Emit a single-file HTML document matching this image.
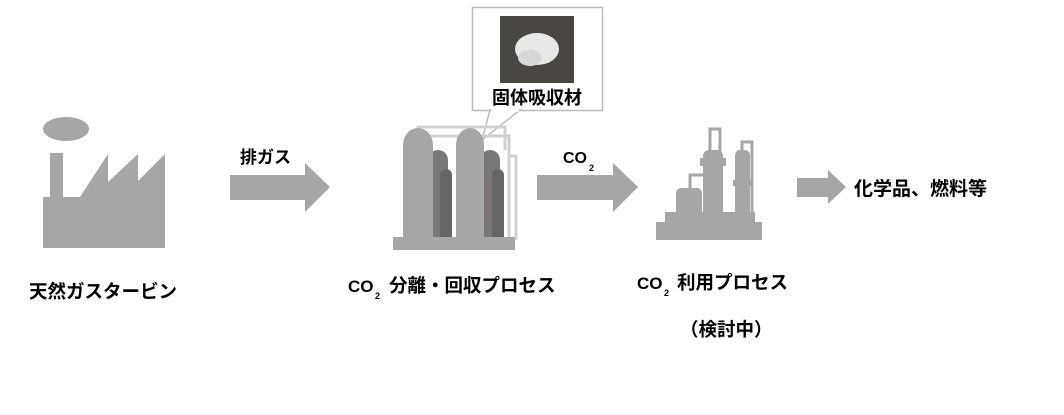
<!DOCTYPE html>
<html><head><meta charset="utf-8"><style>
body{margin:0;background:#fff;width:1064px;height:415px;overflow:hidden}
svg{display:block}
text{font-family:"Liberation Sans","Noto Sans CJK JP",sans-serif;fill:#000;font-weight:bold}
</style></head><body>
<svg width="1064" height="415" viewBox="0 0 1064 415">
<!-- factory -->
<ellipse cx="66" cy="129" rx="23" ry="12" fill="#a6a6a6"/>
<rect x="50" y="153" width="13" height="46" fill="#a6a6a6"/>
<polygon points="43,197 80,197 108,154 108,182 138,154 138,181 165,154 165,248 43,248" fill="#a6a6a6"/>
<!-- arrows -->
<polygon points="230,175 305,175 305,163 330,187 305,212 305,200 230,200" fill="#a6a6a6"/>
<polygon points="537,175 613,175 613,163 638,187 613,212 613,200 537,200" fill="#a6a6a6"/>
<polygon points="797,178 828,178 828,170 846,187 828,204 828,197 797,197" fill="#a6a6a6"/>
<!-- labels -->
<text x="240" y="163" font-size="17">排ガス</text>
<text x="563" y="163" font-size="16">CO</text>
<text x="589" y="171" font-size="9">2</text>
<text x="854" y="195" font-size="19">化学品、燃料等</text>
<text x="29" y="298" font-size="18.5">天然ガスタービン</text>
<text x="348" y="292" font-size="17">CO</text>
<text x="375" y="299" font-size="9">2</text>
<text x="389" y="292" font-size="18.5">分離・回収プロセス</text>
<text x="637" y="289" font-size="17">CO</text>
<text x="664" y="296" font-size="9">2</text>
<text x="677" y="289" font-size="18.5">利用プロセス</text>
<text x="680" y="336" font-size="18.5">（検討中）</text>
<!-- callout -->
<rect x="472.5" y="7.5" width="130" height="103" fill="#fff" stroke="#bbb" stroke-width="1.5"/>
<polygon points="490,110 520,110 482,140" fill="#fff" stroke="#bbb" stroke-width="1.5"/>
<rect x="491" y="109" width="28" height="3" fill="#fff"/>
<rect x="500" y="16" width="74" height="67" fill="#4a4642"/>
<ellipse cx="537" cy="49" rx="22" ry="16" fill="#e8e8e8"/>
<ellipse cx="530" cy="58" rx="12" ry="8" fill="#d8d8d8"/>
<text x="537" y="104" font-size="18" text-anchor="middle">固体吸収材</text>
<!-- separation plant -->
<g fill="none" stroke="#d0d0d0" stroke-width="3">
<polyline points="418,140 418,127 505,127 505,150"/>
<polyline points="430,136 509,136 509,240"/>
<polyline points="510,156 516,156 516,240"/>
</g>
<path d="M428,160 a10,10 0 0 1 20,0 V240 h-20z" fill="#7a7778"/>
<path d="M440,175 a6,6 0 0 1 12,0 V240 h-12z" fill="#666"/>
<path d="M403,145 a15,17 0 0 1 30,0 V240 h-30z" fill="#a6a6a6"/>
<path d="M480,160 a10,10 0 0 1 20,0 V240 h-20z" fill="#7a7778"/>
<path d="M492,175 a6,6 0 0 1 12,0 V240 h-12z" fill="#666"/>
<path d="M456,145 a14,17 0 0 1 28,0 V240 h-28z" fill="#a6a6a6"/>
<rect x="393" y="237" width="122" height="13" fill="#a6a6a6"/>
<!-- utilization plant -->
<g fill="#a6a6a6">
<rect x="656" y="222" width="106" height="18"/>
<rect x="665" y="212" width="90" height="12"/>
<rect x="703" y="150" width="20" height="70" rx="6"/>
<rect x="700" y="158" width="26" height="8"/>
<rect x="735" y="150" width="15" height="66" rx="5"/>
<rect x="733" y="180" width="19" height="6"/>
<rect x="676" y="188" width="26" height="30" rx="5"/>
</g>
<g fill="none" stroke="#a6a6a6" stroke-width="3">
<polyline points="710,152 710,129 720,129 720,152"/>
<polyline points="742,150 742,142 752,142 752,216"/>
<polyline points="690,188 690,175 705,175"/>
</g>
</svg>
</body></html>
